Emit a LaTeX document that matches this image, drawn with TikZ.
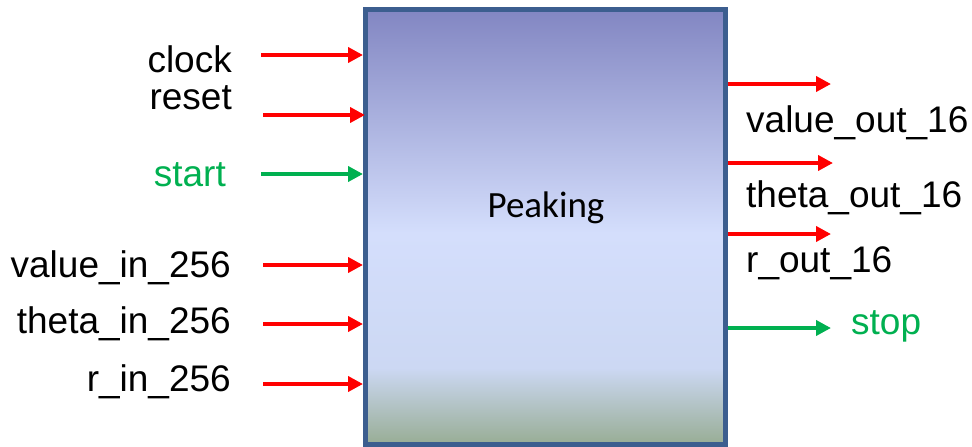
\documentclass[tikz,border=0pt]{standalone}
\usepackage{fontspec}
\setmainfont{Liberation Sans}
\newfontfamily\labelfont{Carlito}
\usetikzlibrary{arrows.meta}

\definecolor{sigred}{HTML}{FF0000}
\definecolor{siggreen}{HTML}{00B050}
\definecolor{boxline}{HTML}{3C5E8F}
\definecolor{pktop}{HTML}{8286C2}
\definecolor{pkmid}{HTML}{D4DEFC}
\definecolor{pklow}{HTML}{CCD8F3}
\definecolor{pkbot}{HTML}{98AD95}

% block fill: violet at the top, pale blue band, grey-green foot
\pgfdeclareverticalshading{peakfill}{100bp}{%
  color(0bp)=(pkbot); color(25bp)=(pkbot); color(33.75bp)=(pklow);
  color(49.3bp)=(pkmid); color(75bp)=(pktop); color(100bp)=(pktop)}

\tikzset{
  sig/.style={line width=4pt, -{Triangle[length=15pt,width=15pt]}},
  redsig/.style={sig, draw=sigred},
  greensig/.style={sig, draw=siggreen},
  portname/.style={inner sep=0pt, font=\fontsize{37}{44}\selectfont},
  inname/.style={portname, anchor=base east},
  outname/.style={portname, anchor=base west},
  block/.style={draw=boxline, line width=5pt, shading=peakfill,
    minimum width=360pt, minimum height=434.5pt, inner sep=0pt},
}

\begin{document}
\begin{tikzpicture}[x=1pt,y=-1pt]
\useasboundingbox (0,0) rectangle (972,447);

% the block
\node[block] (box) at (545.5,226.75) {};
\node[inner sep=0pt, anchor=base, font=\labelfont\fontsize{37}{44}\selectfont] (peak) at (546,217) {Peaking};

% input port names
\node[inname] (clk) at (232,72) {clock};
\node[inname] (rst) at (232,109) {reset};
\node[inname, text=siggreen] (st) at (226,186) {start};
\node[inname] (vin) at (231,277) {value\_in\_256};
\node[inname] (tin) at (231,333) {theta\_in\_256};
\node[inname] (rin) at (231,391) {r\_in\_256};

% output port names
\node[outname] (vout) at (746,132) {value\_out\_16};
\node[outname] (tout) at (746,207) {theta\_out\_16};
\node[outname] (rout) at (746,272) {r\_out\_16};
\node[outname, text=siggreen] (sp) at (851,334) {stop};

% input wire tails
\coordinate (clkw) at (261,55);
\coordinate (rstw) at (263,115);
\coordinate (stw)  at (261,174);
\coordinate (vinw) at (263,265);
\coordinate (tinw) at (263,324);
\coordinate (rinw) at (263,384);

% output wire heads
\coordinate (voutw) at (831,84);
\coordinate (toutw) at (833,163);
\coordinate (routw) at (831,234);
\coordinate (spw)   at (831,328);

% input wires
\draw[redsig]   (clkw) -- (clkw -| box.west);
\draw[redsig]   (rstw) -- ([xshift=2pt]rstw -| box.west);
\draw[greensig] (stw)  -- (stw -| box.west);
\draw[redsig]   (vinw) -- (vinw -| box.west);
\draw[redsig]   (tinw) -- (tinw -| box.west);
\draw[redsig]   (rinw) -- (rinw -| box.west);

% output wires
\draw[redsig]   (voutw -| box.east) -- (voutw);
\draw[redsig]   (toutw -| box.east) -- (toutw);
\draw[redsig]   (routw -| box.east) -- (routw);
\draw[greensig] (spw -| box.east)   -- (spw);
\end{tikzpicture}
\end{document}
